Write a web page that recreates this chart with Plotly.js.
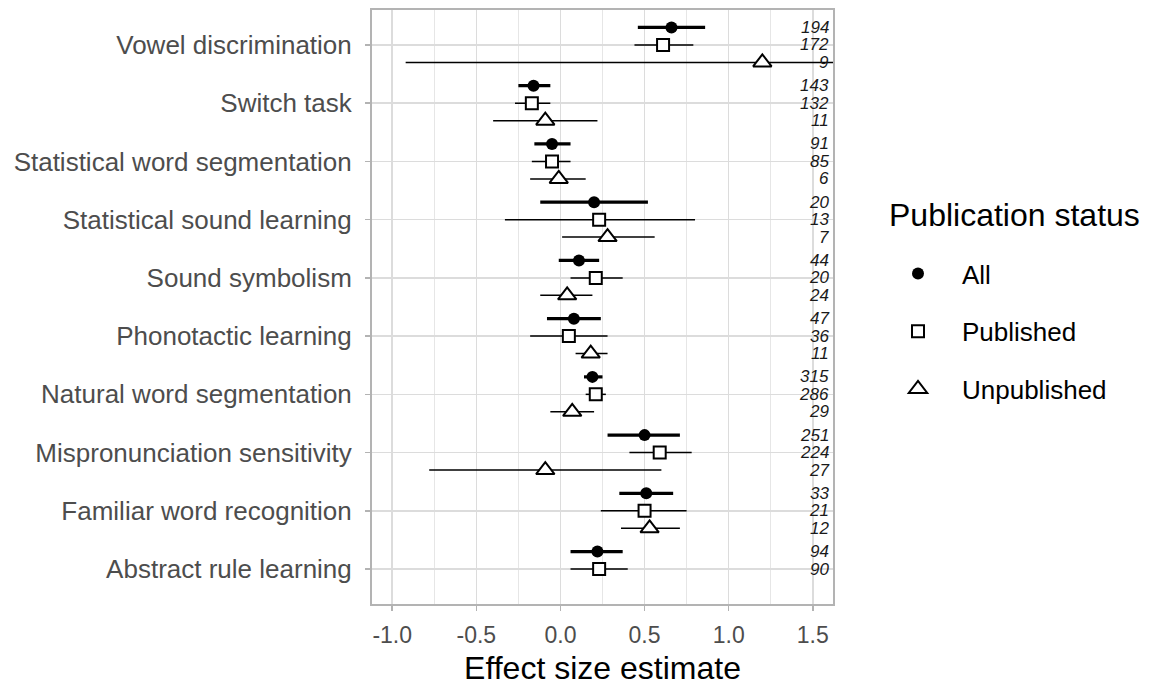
<!DOCTYPE html>
<html>
<head>
<meta charset="utf-8">
<script src="https://cdn.plot.ly/plotly-3.0.1.min.js"></script>
<style>html,body{margin:0;padding:0;background:#fff;}#chart{width:1152px;height:686px;}</style>
</head>
<body>
<div id="chart"></div>
<script>
// ---- data (top to bottom) ----
const categories = ["Vowel discrimination", "Switch task", "Statistical word segmentation",
  "Statistical sound learning", "Sound symbolism", "Phonotactic learning",
  "Natural word segmentation", "Mispronunciation sensitivity", "Familiar word recognition",
  "Abstract rule learning"];

const allEst = [0.66, -0.16, -0.05, 0.20, 0.11, 0.08, 0.19, 0.50, 0.51, 0.22];
const allLo  = [0.46, -0.25, -0.155, -0.12, -0.01, -0.08, 0.14, 0.28, 0.35, 0.06];
const allHi  = [0.86, -0.06, 0.06, 0.52, 0.23, 0.24, 0.25, 0.71, 0.67, 0.37];
const allN   = [194, 143, 91, 20, 44, 47, 315, 251, 33, 94];

const pubEst = [0.61, -0.17, -0.05, 0.23, 0.21, 0.05, 0.21, 0.59, 0.50, 0.23];
const pubLo  = [0.44, -0.27, -0.17, -0.33, 0.06, -0.18, 0.15, 0.41, 0.24, 0.06];
const pubHi  = [0.79, -0.06, 0.06, 0.80, 0.37, 0.28, 0.27, 0.78, 0.75, 0.40];
const pubN   = [172, 132, 85, 13, 20, 36, 286, 224, 21, 90];

const unpEst = [1.20, -0.09, -0.01, 0.28, 0.04, 0.18, 0.07, -0.09, 0.53, null];
const unpLo  = [-0.92, -0.40, -0.18, 0.01, -0.12, 0.09, -0.06, -0.78, 0.36, null];
const unpHi  = [3.31, 0.22, 0.15, 0.56, 0.19, 0.28, 0.20, 0.60, 0.71, null];
const unpN   = [9, 11, 6, 7, 24, 11, 29, 27, 12, null];

const seriesNames = ["All", "Published", "Unpublished"];
const legendTitle = "Publication status";
const xTicks = [-1.0, -0.5, 0.0, 0.5, 1.0, 1.5];

// ---- build ----
const FONT = '"Liberation Sans", Arial, Helvetica, sans-serif';
const series = [
  {name: seriesNames[0], est: allEst, lo: allLo, hi: allHi, n: allN, off: -0.3,
   symbol: 'circle', size: 12, color: '#000', lineColor: '#000', lw: 0, ciW: 3.2},
  {name: seriesNames[1], est: pubEst, lo: pubLo, hi: pubHi, n: pubN, off: 0,
   symbol: 'square', size: 12, color: '#fff', lineColor: '#000', lw: 2, ciW: 1.5},
  {name: seriesNames[2], est: unpEst, lo: unpLo, hi: unpHi, n: unpN, off: 0.3,
   symbol: 'triangle-up', size: 16, color: '#fff', lineColor: '#000', lw: 2, ciW: 1.5}
];

const traces = [];
const annotations = [];
series.forEach((s, k) => {
  const lx = [], ly = [];
  categories.forEach((c, i) => {
    if (s.est[i] === null) return;
    lx.push(s.lo[i], s.hi[i], null);
    ly.push(i + s.off, i + s.off, null);
  });
  traces.push({type: 'scatter', mode: 'lines', x: lx, y: ly, showlegend: false,
    legendgroup: 'g' + k, hoverinfo: 'skip',
    line: {color: '#000', width: s.ciW}});
});
series.forEach((s, k) => {
  const px = [], py = [];
  categories.forEach((c, i) => {
    if (s.est[i] === null) return;
    px.push(s.est[i]);
    py.push(i + s.off);
    annotations.push({xref: 'paper', x: 1, xanchor: 'right', xshift: -2,
      yref: 'y', y: i + s.off, yanchor: 'middle', showarrow: false,
      text: String(s.n[i]), font: {family: FONT, size: 17, style: 'italic', color: '#1a1a1a'}});
  });
  traces.push({type: 'scatter', mode: 'markers', x: px, y: py, name: s.name,
    legendgroup: 'g' + k,
    marker: {symbol: s.symbol, size: s.size, color: s.color,
      line: {color: s.lineColor, width: s.lw}}});
});

annotations.push({xref: 'paper', yref: 'paper', x: (887 - 372) / 461, y: 1 - (215 - 10) / 594,
  xanchor: 'left', yanchor: 'middle', showarrow: false, text: legendTitle,
  font: {family: FONT, size: 32, color: '#000'}});

const layout = {
  width: 1152, height: 686,
  margin: {l: 372, r: 319, t: 10, b: 82},
  paper_bgcolor: '#fff', plot_bgcolor: '#fff',
  font: {family: FONT, color: '#000'},
  showlegend: true,
  xaxis: {
    range: [-1.12, 1.62], tickvals: xTicks, ticktext: xTicks.map(v => v.toFixed(1)),
    ticks: 'outside', ticklen: 5, tickwidth: 1.5, tickcolor: '#b3b3b3',
    tickfont: {size: 23, color: '#4d4d4d'}, ticklabelstandoff: 4,
    showgrid: true, gridcolor: '#dcdcdc', gridwidth: 1.6,
    minor: {dtick: 0.25, tick0: 0, showgrid: true, gridcolor: '#e6e6e6', gridwidth: 1.2},
    zeroline: false, showline: true, mirror: true, linecolor: '#b3b3b3', linewidth: 2,
    title: {text: 'Effect size estimate', font: {size: 32, color: '#000'}, standoff: 10}
  },
  yaxis: {
    range: [9.6, -0.6], tickvals: categories.map((c, i) => i), ticktext: categories,
    ticks: 'outside', ticklen: 5, tickwidth: 1.5, tickcolor: '#b3b3b3',
    tickfont: {size: 26, color: '#4d4d4d'}, ticklabelstandoff: 8,
    showgrid: true, gridcolor: '#dcdcdc', gridwidth: 1.6,
    zeroline: false, showline: true, mirror: true, linecolor: '#b3b3b3', linewidth: 2
  },
  legend: {
    xref: 'container', yref: 'container', x: 874 / 1152, y: 1 - 250 / 686,
    xanchor: 'left', yanchor: 'top',
    font: {size: 26, color: '#000'}, itemwidth: 78, tracegroupgap: 21,
    bgcolor: 'rgba(0,0,0,0)', borderwidth: 0
  },
  annotations: annotations
};

Plotly.newPlot('chart', traces, layout, {displayModeBar: false, staticPlot: true});
</script>
</body>
</html>
